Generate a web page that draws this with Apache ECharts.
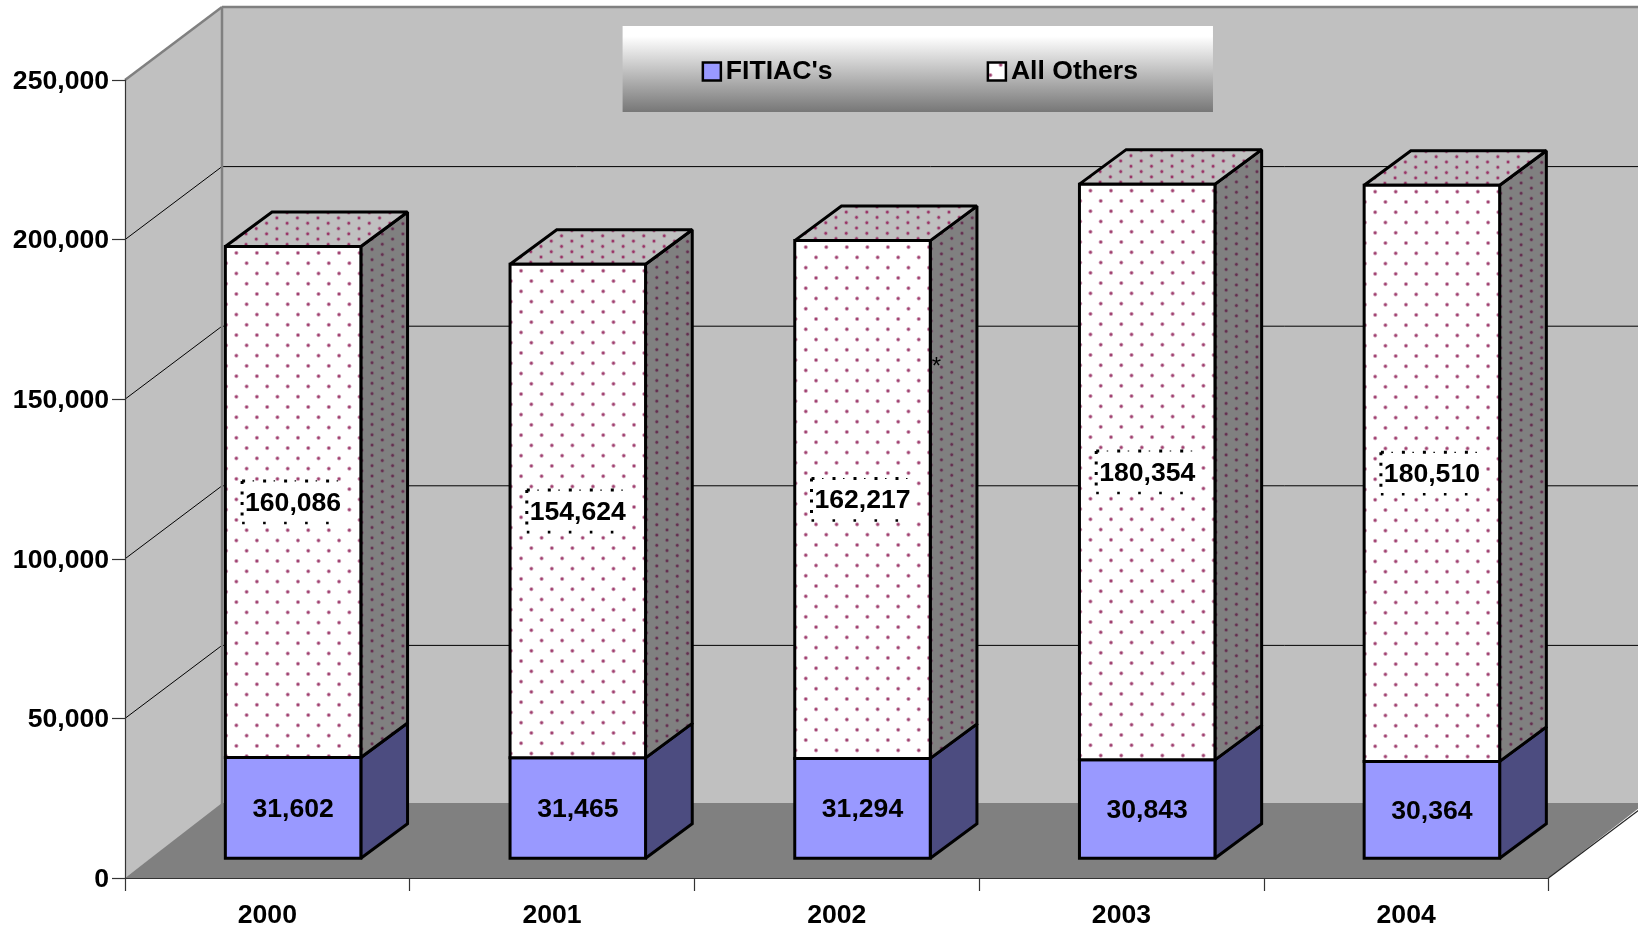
<!DOCTYPE html>
<html>
<head>
<meta charset="utf-8">
<title>FITIAC's and All Others</title>
<script src="https://cdn.jsdelivr.net/npm/echarts@6/dist/echarts.min.js"></script>
<style>
	html, body { margin: 0; padding: 0; background: #fff; }
	#chart { width: 1638px; height: 931px; }
</style>
</head>
<body>
<div id="chart"></div>
<script>
const categories = ['2000', '2001', '2002', '2003', '2004'];
const fitiacValues = [31602, 31465, 31294, 30843, 30364];
const otherValues = [160086, 154624, 162217, 180354, 180510];
const wallTicks = [50000, 100000, 150000, 200000, 250000];

const FONT = '"Liberation Sans", Arial, sans-serif';
const FONT_SIZE = 26.6;

// 3D look, in pixels
const wallDx = 97;
const wallDy = -73;
const barShiftX = 26;
const barShiftY = -19.7;
const barWidth = 135.5;
const barLeft = -68;
const barDx = 46.7;
const barDy = -34.5;

const fmt = (v) => String(v).replace(/\B(?=(\d{3})+(?!\d))/g, ',');

// Dotted fill tiles: two soft dots per tile, drawn at 4x and scaled back down
const TILE_W = 82;
const STEP = 20.54;

function dotTile(background, core, halo, height, coreStop) {
	const canvas = document.createElement('canvas');
	canvas.width = TILE_W;
	canvas.height = height;
	const ctx = canvas.getContext('2d');
	ctx.fillStyle = background;
	ctx.fillRect(0, 0, TILE_W, height);
	[[TILE_W / 4, height / 4], [(TILE_W * 3) / 4, (height * 3) / 4]].forEach((p) => {
		const g = ctx.createRadialGradient(p[0], p[1], 0, p[0], p[1], 10);
		g.addColorStop(0, core);
		g.addColorStop(coreStop, core);
		g.addColorStop(0.65, halo);
		g.addColorStop(1, 'rgba(153,51,102,0)');
		ctx.fillStyle = g;
		ctx.beginPath();
		ctx.arc(p[0], p[1], 10, 0, Math.PI * 2);
		ctx.fill();
	});
	return canvas;
}

const frontTile = dotTile('#ffffff', '#a04070', 'rgba(153,51,102,0.45)', 82, 0.3);
const topTile = dotTile('#c0c0c0', '#993366', 'rgba(153,51,102,0.3)', 41, 0.32);
const sideTile = dotTile('#808080', '#642f50', 'rgba(100,47,80,0.3)', 41, 0.32);

// Pattern with one of its dots sitting on (x, y)
function dots(tile, rowStep, x, y) {
	return {
		image: tile,
		repeat: 'repeat',
		x: x - STEP / 4,
		y: y - rowStep / 4,
		scaleX: STEP / TILE_W,
		scaleY: rowStep / tile.height,
	};
}

function polygon(points, fill, z2) {
	return {
		type: 'polygon',
		z2,
		shape: { points },
		style: { fill, stroke: '#000', lineWidth: 3, lineJoin: 'miter', miterLimit: 2 },
	};
}

// Walls, floor and the gridlines running over them
function renderWalls(params, api) {
	const sys = params.coordSys;
	const left = sys.x;
	const right = sys.x + sys.width;
	const bottom = sys.y + sys.height;
	const children = [];
	const top = api.coord([0, wallTicks[wallTicks.length - 1]])[1];
	const plain = { fill: '#c0c0c0' };

	children.push({
		type: 'polygon',
		shape: { points: [[left + wallDx, top + wallDy], [right + wallDx, top + wallDy], [right + wallDx, bottom + wallDy], [left + wallDx, bottom + wallDy]] },
		style: plain,
	});
	children.push({
		type: 'polygon',
		shape: { points: [[left, top], [left + wallDx, top + wallDy], [left + wallDx, bottom + wallDy], [left, bottom]] },
		style: plain,
	});
	children.push({
		type: 'polygon',
		shape: { points: [[left, bottom], [left + wallDx, bottom + wallDy - 2], [right + wallDx, bottom + wallDy - 2], [right, bottom]] },
		style: { fill: '#808080' },
	});
	children.push({
		type: 'line',
		shape: { x1: right, y1: bottom, x2: right + wallDx, y2: bottom + wallDy },
		style: { stroke: '#222', lineWidth: 1.2 },
	});

	wallTicks.forEach((tick) => {
		const y = api.coord([0, tick])[1];
		const isTop = tick === wallTicks[wallTicks.length - 1];
		const line = { stroke: isTop ? '#808080' : '#000', lineWidth: isTop ? 2.5 : 1 };
		children.push({ type: 'line', shape: { x1: left, y1: y, x2: left + wallDx, y2: y + wallDy }, style: line });
		children.push({ type: 'line', shape: { x1: left + wallDx, y1: y + wallDy, x2: right + wallDx, y2: y + wallDy }, style: line });
	});

	children.push({
		type: 'line',
		shape: { x1: left + wallDx, y1: top + wallDy, x2: left + wallDx, y2: bottom + wallDy },
		style: { stroke: '#808080', lineWidth: 2.5 },
	});
	return { type: 'group', children };
}

function dashLine(x1, y1, x2, y2, width, dash) {
	return {
		type: 'line',
		z2: 10,
		shape: { x1, y1, x2, y2 },
		style: { stroke: '#000', lineWidth: width, lineDash: dash },
	};
}

// The dotted box has no dots down its right side, same as the picture
function label(text, x, y, boxed) {
	const parts = [];
	if (boxed) {
		const l = x - 51;
		const t = y - 21;
		const b = y + 21;
		parts.push({
			type: 'rect',
			z2: 9,
			shape: { x: l, y: t, width: 102, height: 42 },
			style: { fill: '#fff' },
		});
		parts.push(dashLine(l, t, l + 96, t, 3, [3, 18]));
		parts.push(dashLine(l + 10.5, t, l + 96, t, 1.2, [1.5, 19.5]));
		parts.push(dashLine(l, t, l, b, 3, [3, 7.5]));
		parts.push(dashLine(l, b, l + 96, b, 2.6, [2.6, 18.4]));
	}
	parts.push({
		type: 'text',
		z2: 11,
		style: {
			text,
			x,
			y: y + 1.5,
			align: 'center',
			verticalAlign: 'middle',
			fontFamily: FONT,
			fontSize: FONT_SIZE,
			fontWeight: 'bold',
			fill: '#000',
		},
	});
	return parts;
}

// One stacked block: api values are category, base, top
function renderBlock(dotted) {
	return function(params, api) {
		const cat = api.value(0);
		const base = api.coord([cat, api.value(1)]);
		const head = api.coord([cat, api.value(2)]);
		const x0 = base[0] + barLeft + barShiftX;
		const x1 = x0 + barWidth;
		const y0 = base[1] + barShiftY;
		const y1 = head[1] + barShiftY;
		const frontFill = dotted ? dots(frontTile, STEP, x0 + 11, y1 + 6.5) : '#9999ff';
		const sideFill = dotted ? dots(sideTile, 10.3, x1 + barDx - 4.7, y1 + barDy + 11.7) : '#4c4c80';
		const children = [
			polygon([[x1, y0], [x1 + barDx, y0 + barDy], [x1 + barDx, y1 + barDy], [x1, y1]], sideFill, 1),
			polygon([[x0, y0], [x1, y0], [x1, y1], [x0, y1]], frontFill, 2),
		];
		if (dotted) {
			const topFill = dots(topTile, 10.6, x0 + 51.5, y1 - 28.5);
			children.push(polygon([[x0, y1], [x1, y1], [x1 + barDx, y1 + barDy], [x0 + barDx, y1 + barDy]], topFill, 1));
		}
		return {
			type: 'group',
			children: children.concat(label(fmt(api.value(2) - api.value(1)), (x0 + x1) / 2, (y0 + y1) / 2, dotted)),
		};
	};
}

const fitiacData = categories.map((c, i) => [i, 0, fitiacValues[i]]);
const otherData = categories.map((c, i) => [i, fitiacValues[i], fitiacValues[i] + otherValues[i]]);

const axisText = { color: '#000', fontFamily: FONT, fontSize: FONT_SIZE, fontWeight: 'bold' };
const axisStroke = { color: '#333', width: 1.2 };

const chart = echarts.init(document.getElementById('chart'));
chart.setOption({
	animation: false,
	backgroundColor: '#fff',
	grid: { left: 125, right: 89.5, top: 80, bottom: 53 },
	legend: {
		left: 622.6,
		top: 26,
		padding: [32, 75, 27, 79],
		itemGap: 154,
		itemWidth: 18,
		itemHeight: 18,
		selectedMode: false,
		backgroundColor: {
			type: 'linear',
			x: 0,
			y: 0,
			x2: 0,
			y2: 1,
			colorStops: [
				{ offset: 0, color: '#ffffff' },
				{ offset: 0.12, color: '#ffffff' },
				{ offset: 1, color: '#777777' },
			],
		},
		textStyle: { color: '#000', fontFamily: FONT, fontSize: FONT_SIZE, fontWeight: 'bold' },
		data: [
			{ name: "FITIAC's", icon: 'rect', itemStyle: { color: '#9999ff', borderColor: '#000', borderWidth: 2.5 } },
			{ name: 'All Others', icon: 'rect', itemStyle: { color: dots(frontTile, STEP, 998.7, 64), borderColor: '#000', borderWidth: 2.5 } },
		],
	},
	xAxis: {
		type: 'category',
		data: categories,
		z: 10,
		axisLine: { lineStyle: axisStroke },
		axisTick: { show: true, length: 13, lineStyle: axisStroke },
		axisLabel: Object.assign({ margin: 24 }, axisText),
		splitLine: { show: false },
	},
	yAxis: {
		type: 'value',
		min: 0,
		max: 250000,
		interval: 50000,
		z: 10,
		axisLine: { show: true, lineStyle: axisStroke },
		axisTick: { show: true, length: 13, lineStyle: axisStroke },
		axisLabel: Object.assign({
			margin: 16,
			formatter: (v) => `{v|${fmt(v)}}`,
			rich: { v: Object.assign({ padding: [3, 0, 0, 0] }, axisText) },
		}, axisText),
		splitLine: { show: false },
	},
	graphic: [
		{
			type: 'text',
			z: 100,
			x: 936.5,
			y: 367,
			style: { text: '*', align: 'center', verticalAlign: 'middle', fontFamily: FONT, fontSize: 24, fill: '#000' },
		},
	],
	series: [
		{ type: 'custom', name: 'walls', z: 1, silent: true, coordinateSystem: 'cartesian2d', data: [[0, 0]], renderItem: renderWalls },
		{ type: 'custom', name: "FITIAC's", z: 2, coordinateSystem: 'cartesian2d', itemStyle: { color: '#9999ff' }, data: fitiacData, encode: { x: 0, y: 2 }, renderItem: renderBlock(false) },
		{ type: 'custom', name: 'All Others', z: 3, coordinateSystem: 'cartesian2d', data: otherData, encode: { x: 0, y: 2 }, renderItem: renderBlock(true) },
	],
});
</script>
</body>
</html>
